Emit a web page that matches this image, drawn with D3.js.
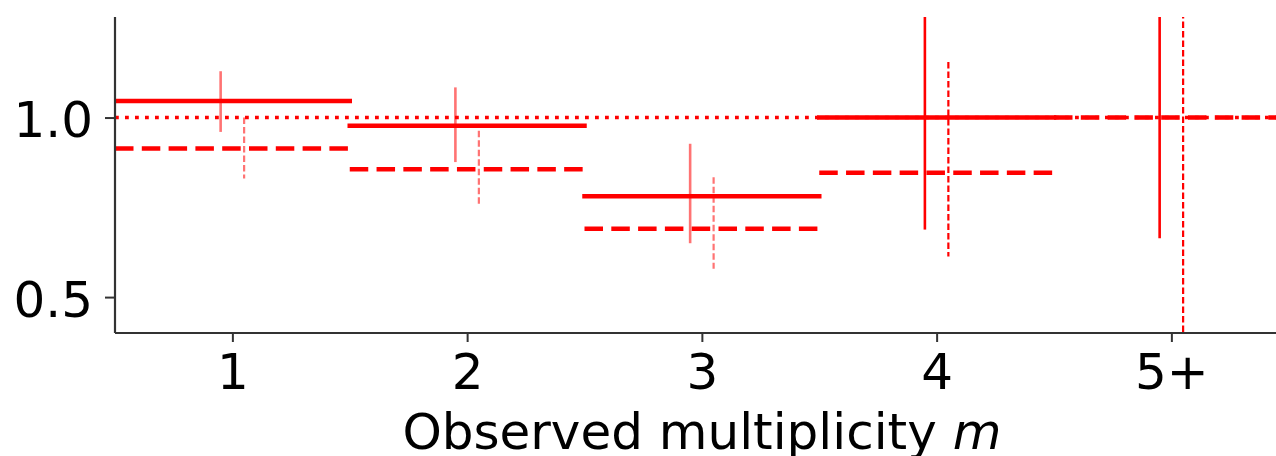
<!DOCTYPE html>
<html>
<head>
<meta charset="utf-8">
<script src="https://cdn.jsdelivr.net/npm/d3@7"></script>
<style>
  html, body { margin: 0; padding: 0; background: #fff; }
  svg { display: block; font-family: "DejaVu Sans", sans-serif; }
</style>
</head>
<body>
<svg id="chart" width="1276" height="456"></svg>
<script>
// Multiplicity bins and their tick labels
const categories = [1, 2, 3, 4, 5];
const tickLabels = ["1", "2", "3", "4", "5+"];

// Series A (solid): central values with lower / upper uncertainties
const valuesA   = [1.046, 0.977, 0.781, 1.000, 1.350];
const errLowA   = [0.086, 0.101, 0.131, 0.312, 0.686];
const errHighA  = [0.083, 0.107, 0.146, 0.310, 0.350];

// Series B (dashed): central values with lower / upper uncertainties
const valuesB   = [0.914, 0.856, 0.690, 0.846, 1.000];
const errLowB   = [0.084, 0.098, 0.111, 0.233, 0.650];
const errHighB  = [0.086, 0.107, 0.144, 0.309, 0.400];

// Reference level and y ticks
const referenceLevel = 1.0;
const yTicks = [0.5, 1.0];

const svg = d3.select("#chart");
const margin = { left: 115, top: 17, bottom: 123 };
const H = 456;
const plotBottom = H - margin.bottom;           // 333
const unit = 234.75;                            // px per bin
const x = d3.scaleLinear().domain([0.5, 5.5]).range([margin.left, margin.left + 5 * unit]);
const y = d3.scaleLinear().domain([0.4, 1.28]).range([plotBottom, margin.top]);

const RED = "#ff0000";

svg.append("defs").append("clipPath").attr("id", "plotClip")
  .append("rect")
  .attr("x", x(0.5)).attr("y", y(1.28))
  .attr("width", x(5.5) - x(0.5)).attr("height", y(0.4) - y(1.28));

const plot = svg.append("g").attr("clip-path", "url(#plotClip)");

// Reference line
plot.append("line")
  .attr("x1", x(0.5)).attr("x2", x(5.5))
  .attr("y1", y(referenceLevel)).attr("y2", y(referenceLevel))
  .attr("stroke", RED).attr("stroke-width", 3.6)
  .attr("stroke-dasharray", "3.8,6.2");

const half = 0.5, offset = 0.05;
const faded = i => i < 3 ? 0.55 : 1;

// Series B: horizontal bin spans (dashed)
plot.selectAll(".hB").data(categories).join("line")
  .attr("x1", d => x(d - half)).attr("x2", d => x(d + half))
  .attr("y1", (d, i) => y(valuesB[i])).attr("y2", (d, i) => y(valuesB[i]))
  .attr("stroke", RED).attr("stroke-width", 4.5)
  .attr("stroke-dasharray", "18.5,8.3");

// Series B: vertical uncertainties (thin dashed)
plot.selectAll(".vB").data(categories).join("line")
  .attr("x1", d => x(d + offset)).attr("x2", d => x(d + offset))
  .attr("y1", (d, i) => y(valuesB[i] + errHighB[i]))
  .attr("y2", (d, i) => y(valuesB[i] - errLowB[i]))
  .attr("stroke", RED).attr("stroke-width", 2.2)
  .attr("stroke-opacity", (d, i) => faded(i))
  .attr("stroke-dasharray", "6.5,3");

// Series A: horizontal bin spans (solid)
plot.selectAll(".hA").data(categories).join("line")
  .attr("x1", d => x(d - half)).attr("x2", d => x(d + half))
  .attr("y1", (d, i) => y(valuesA[i])).attr("y2", (d, i) => y(valuesA[i]))
  .attr("stroke", RED).attr("stroke-width", 4.5)
  .attr("stroke-linecap", "square");

// Series A: vertical uncertainties (solid)
plot.selectAll(".vA").data(categories).join("line")
  .attr("x1", d => x(d - offset)).attr("x2", d => x(d - offset))
  .attr("y1", (d, i) => y(valuesA[i] + errHighA[i]))
  .attr("y2", (d, i) => y(valuesA[i] - errLowA[i]))
  .attr("stroke", RED).attr("stroke-width", 2.6)
  .attr("stroke-opacity", (d, i) => faded(i));

// Axes
const AXIS = "#333";
const yAxis = svg.append("g").attr("transform", `translate(${margin.left},0)`)
  .call(d3.axisLeft(y).tickValues(yTicks).tickFormat(d3.format(".1f")).tickSize(10).tickPadding(12));
yAxis.select(".domain").attr("d", `M0,${margin.top}V${plotBottom}`);

const xAxis = svg.append("g").attr("transform", `translate(0,${plotBottom})`)
  .call(d3.axisBottom(x).tickValues(categories).tickFormat((d, i) => tickLabels[i]).tickSize(9).tickPadding(10));
xAxis.select(".domain").attr("d", `M${x(0.5)},0H${x(5.5)}`);

[yAxis, xAxis].forEach(g => {
  g.select(".domain").attr("stroke", AXIS).attr("stroke-width", 2.2);
  g.selectAll(".tick line").attr("stroke", AXIS).attr("stroke-width", 2);
  g.selectAll(".tick text").attr("fill", "#000")
    .style("font-family", "'DejaVu Sans', sans-serif").style("font-size", "50px");
});
yAxis.selectAll(".tick text").attr("dy", "0.38em");
xAxis.selectAll(".tick text").attr("dy", "0.74em");

// X axis title
const title = svg.append("text")
  .attr("x", x(3)).attr("y", 449)
  .attr("text-anchor", "middle")
  .style("font-size", "50px").style("font-family", "'DejaVu Sans', sans-serif")
  .attr("fill", "#000");
title.append("tspan").text("Observed multiplicity ");
title.append("tspan").style("font-style", "italic").text("m");
</script>
</body>
</html>
